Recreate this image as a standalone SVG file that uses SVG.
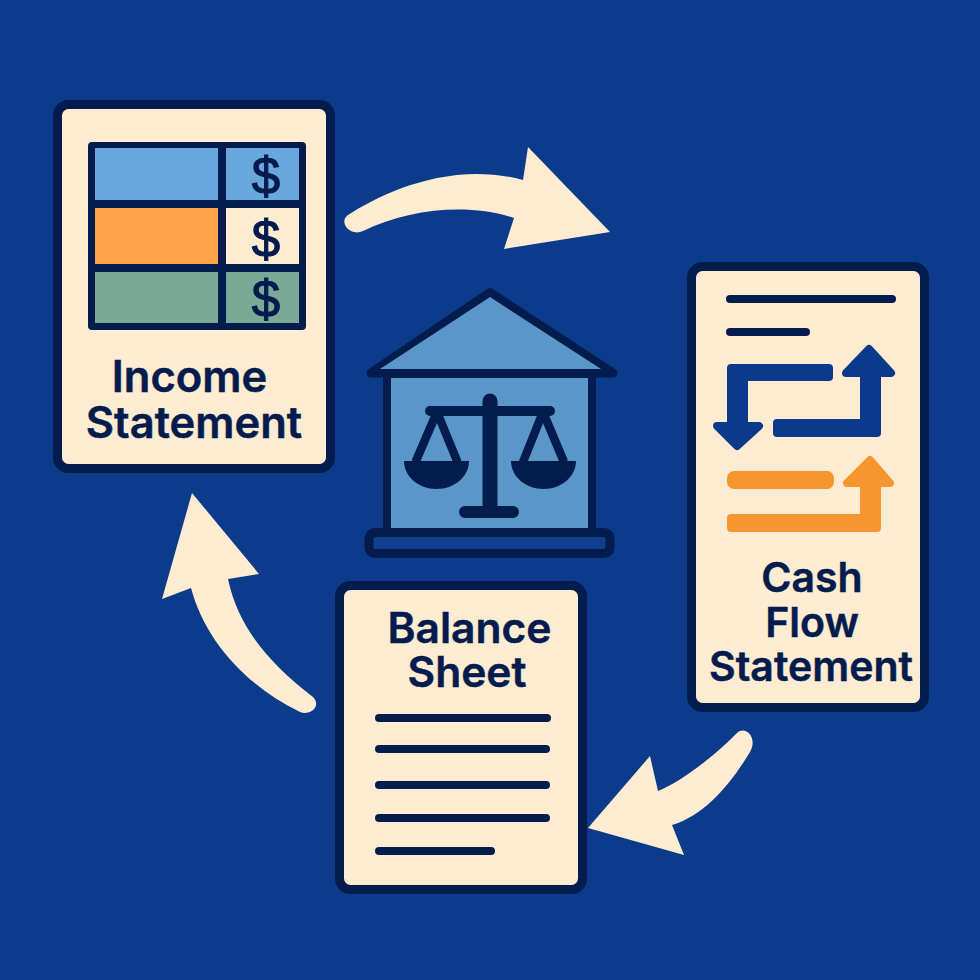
<svg xmlns="http://www.w3.org/2000/svg" width="980" height="980" viewBox="0 0 980 980">
<style>
.bg{fill:#0b3b8a}
.card{fill:#fdebd2;stroke:#041c4d;stroke-width:9}
.ink{fill:#041c4d}
.ln{stroke:#041c4d;stroke-width:8;stroke-linecap:round;fill:none}
.cell{stroke:none}
.lbl{font-family:Inter,"Liberation Sans",sans-serif;font-weight:600;fill:#041c4d;text-anchor:middle;stroke:#041c4d;stroke-width:.5}
.dlr{font-family:"Liberation Sans",sans-serif;font-size:51px;fill:#041c4d;text-anchor:middle;stroke:#041c4d;stroke-width:1.2}
.flow{fill:#fdebd2}
.blue{fill:#0b3a8a;stroke:#0b3a8a;stroke-width:8;stroke-linejoin:round}
.orange{fill:#f7962e;stroke:#f7962e;stroke-width:8;stroke-linejoin:round}
</style>
<rect class="bg" width="980" height="980"/>
<g id="connectors">
<path class="flow" d="M348 215C380 194 450 160 523 180L528 147L610 232L504 249L514 218C470 203 410 208 363 231C350 237 338 222 348 215Z"/>
<path class="flow" d="M192 493L259 574L228 579C238 625 265 660 313 697C322 706 310 716 300 712C245 685 205 640 191 588L162 599Z"/>
<path class="flow" d="M588 828L650 756L658 791C680 782 710 760 737 733C746 725 758 738 750 752C730 785 705 815 672 825L684 855Z"/>
</g>
<g id="income-statement">
<rect class="card" x="57.500" y="104.500" width="273" height="364" rx="11"/>
<rect class="ink" x="88" y="142" width="218" height="188" rx="4"/>
<rect class="cell" x="95" y="148" width="123" height="52" fill="#69a7dc"/>
<rect class="cell" x="226" y="148" width="73" height="52" fill="#69a7dc"/>
<rect class="cell" x="95" y="208" width="123" height="56" fill="#ffa24a"/>
<rect class="cell" x="226" y="208" width="73" height="56" fill="#fdebd2"/>
<rect class="cell" x="95" y="272" width="123" height="51" fill="#78aa96"/>
<rect class="cell" x="226" y="272" width="73" height="51" fill="#78aa96"/>
<text class="dlr" x="266" y="194">$</text>
<text class="dlr" x="266" y="257">$</text>
<text class="dlr" x="266" y="317">$</text>
<text class="lbl" x="189.500" y="392" font-size="43.500">Income</text>
<text class="lbl" x="194" y="438" font-size="43.500">Statement</text>
</g>
<g id="cash-flow-statement">
<rect class="card" x="691.500" y="266.500" width="233" height="441" rx="11"/>
<line class="ln" x1="730" y1="299" x2="892" y2="299"/>
<line class="ln" x1="730" y1="332" x2="806" y2="332"/>
<path class="blue" d="M829 368H731V426H717L737 446L759 426H744V377H829Z"/>
<path class="blue" d="M777 423H864V373H846L869 349L891 373H877V433H777Z"/>
<rect x="727" y="471" width="107" height="18" rx="7" fill="#f7962e"/>
<path class="orange" d="M731 518H864V483H847L870 460L890 483H877V528H731Z"/>
<text class="lbl" x="812" y="592" font-size="41">Cash</text>
<text class="lbl" x="812" y="637" font-size="41">Flow</text>
<text class="lbl" x="811" y="681" font-size="41">Statement</text>
</g>
<g id="balance-sheet">
<rect class="card" x="339.500" y="585.500" width="243" height="304" rx="11"/>
<text class="lbl" x="469.500" y="643" font-size="42.500">Balance</text>
<text class="lbl" x="467" y="687" font-size="42.500">Sheet</text>
<line class="ln" x1="379" y1="718" x2="547" y2="718"/>
<line class="ln" x1="379" y1="749" x2="546" y2="749"/>
<line class="ln" x1="379" y1="785" x2="546" y2="785"/>
<line class="ln" x1="379" y1="818" x2="546" y2="818"/>
<line class="ln" x1="379" y1="851" x2="491" y2="851"/>
</g>
<g id="courthouse">
<rect x="387" y="374" width="205" height="158" fill="#5b96c9" stroke="#041c4d" stroke-width="8"/>
<path d="M371 373L490 292.500L613 373Z" fill="#041c4d" stroke="#041c4d" stroke-width="9" stroke-linejoin="round"/>
<path d="M380 369L490 297L601 369Z" fill="#5b96c9"/>
<rect x="369" y="532.500" width="241" height="21" rx="6" fill="#0f3f8e" stroke="#041c4d" stroke-width="9"/>
<path class="ink" d="M482.500 401a7.500 7.500 0 0 1 15 0V506H513a6 6 0 0 1 0 12H465a6 6 0 0 1 0-12H482.500Z"/>
<rect class="ink" x="425" y="406" width="130" height="10" rx="5"/>
<path d="M437 412L415.500 462M437 412L457.500 462M543 412L523 462M543 412L564 462" stroke="#041c4d" stroke-width="8.500" fill="none"/>
<path class="ink" d="M404 461H469C469 476 455 489 436.500 489C418 489 404 476 404 461Z"/>
<path class="ink" d="M511 461H576C576 476 562 489 543.500 489C525 489 511 476 511 461Z"/>
</g>
</svg>
